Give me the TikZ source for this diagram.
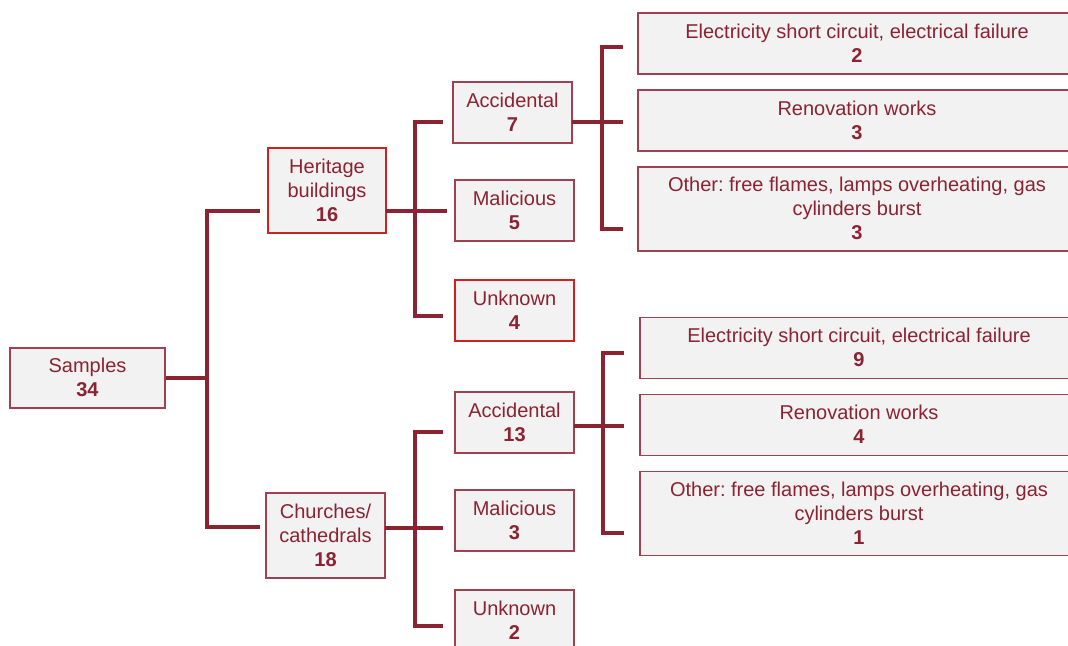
\documentclass[tikz,border=0pt]{standalone}
\usepackage{fontspec}
\setmainfont{Liberation Sans}
\frenchspacing
\definecolor{maroon}{HTML}{8B2332}
\definecolor{boxline}{HTML}{A04050}
\definecolor{redline}{HTML}{D02020}
\definecolor{boxfill}{HTML}{F2F2F2}
\tikzset{
  box/.style={draw=boxline, fill=boxfill, line width=0.9pt, align=center,
    inner sep=0pt, text=maroon, font=\fontsize{15}{18}\selectfont,
    text depth=0.9pt},
  redbox/.style={box, draw=redline},
  small/.style={minimum width=89.25pt, minimum height=45.75pt},
  wide/.style={minimum width=328.5pt, minimum height=45.75pt},
  conn/.style={draw=maroon, line width=2.4pt}
}
\begin{document}
\begin{tikzpicture}[x=0.75pt, y=-0.75pt]
\useasboundingbox (0,0) rectangle (1068,646);
\clip (0,0) rectangle (1068,646);

% root
\node[box, minimum width=116.25pt, minimum height=45pt] (samples) at (87.5,378) {Samples\\\textbf{34}};

% second level
\node[redbox, minimum width=88.5pt, minimum height=63.75pt] (heritage) at (327,190.5) {Heritage\\buildings\\\textbf{16}};
\node[box, minimum width=89.25pt, minimum height=63.75pt] (churches) at (325.5,535.5) {Churches/\\cathedrals\\\textbf{18}};

% third level
\node[box, small] (acc1) at (512.5,112.5) {Accidental\\\textbf{7}};
\node[box, small] (mal1) at (514.5,210.5) {Malicious\\\textbf{5}};
\node[redbox, small] (unk1) at (514.5,310.5) {Unknown\\\textbf{4}};
\node[box, small] (acc2) at (514.5,422.5) {Accidental\\\textbf{13}};
\node[box, small] (mal2) at (514.5,520.5) {Malicious\\\textbf{3}};
\node[box, small] (unk2) at (514.5,620.5) {Unknown\\\textbf{2}};

% fourth level
\node[box, wide] (el1) at (857,43.5) {Electricity short circuit, electrical failure\\\textbf{2}};
\node[box, wide] (ren1) at (857,120.5) {Renovation works\\\textbf{3}};
\node[box, wide, minimum height=63pt] (oth1) at (857,209) {Other: free flames, lamps overheating, gas\\cylinders burst\\\textbf{3}};
\node[box, wide] (el2) at (859,348) {Electricity short circuit, electrical failure\\\textbf{9}};
\node[box, wide] (ren2) at (859,425) {Renovation works\\\textbf{4}};
\node[box, wide, minimum height=63pt] (oth2) at (859,513.5) {Other: free flames, lamps overheating, gas\\cylinders burst\\\textbf{1}};

% connector end points
\coordinate (sbus) at (207,378);
\coordinate (hstub) at (260,211);
\coordinate (cstub) at (260,527);
\coordinate (hout) at (386,211);
\coordinate (cout) at (385,528);
\coordinate (a1s) at (443,122);
\coordinate (m1s) at (447,211);
\coordinate (u1s) at (443,316);
\coordinate (a2s) at (443,432);
\coordinate (m2s) at (443,528);
\coordinate (u2s) at (443,626);
\coordinate (a1out) at (572,122);
\coordinate (a2out) at (574,426);
\coordinate (e1s) at (623,47);
\coordinate (r1s) at (623,122);
\coordinate (o1s) at (623,229);
\coordinate (e2s) at (624,353);
\coordinate (r2s) at (624,426);
\coordinate (o2s) at (624,533);

% connectors
\draw[conn] (samples.east) -- (sbus);
\draw[conn] (hstub) -- (207,211) -- (207,527) -- (cstub);

\draw[conn] (hout) -- (m1s);
\draw[conn] (a1s) -- (415,122) -- (415,316) -- (u1s);
\draw[conn] (cout) -- (m2s);
\draw[conn] (a2s) -- (415,432) -- (415,626) -- (u2s);

\draw[conn] (a1out) -- (r1s);
\draw[conn] (e1s) -- (602,47) -- (602,229) -- (o1s);
\draw[conn] (a2out) -- (r2s);
\draw[conn] (e2s) -- (603,353) -- (603,533) -- (o2s);
\end{tikzpicture}
\end{document}
